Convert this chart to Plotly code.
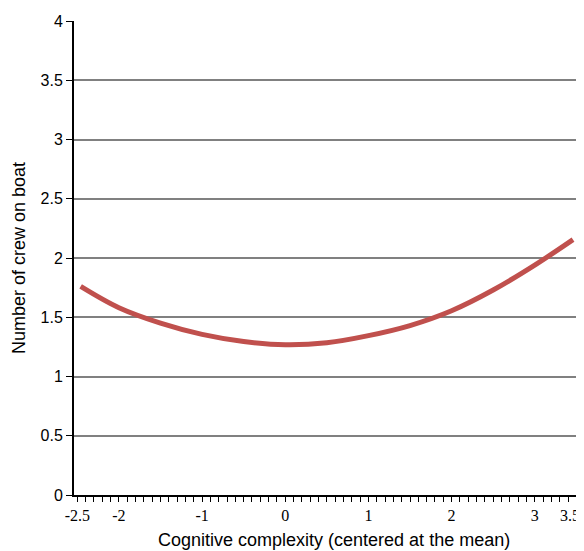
import plotly.graph_objects as go

# Data
complexity = [-2.46, -2.0, -1.5, -1.0, -0.5, 0.0, 0.5, 1.0, 1.5, 2.0, 2.5, 3.0, 3.46]
crew = [1.76, 1.58, 1.45, 1.355, 1.295, 1.268, 1.285, 1.345, 1.43, 1.555, 1.73, 1.94, 2.155]

x_tickvals = [-2.5, -2, -1, 0, 1, 2, 3, 3.5]
x_ticktext = ["-2.5", "-2", "-1", "0", "1", "2", "3", "3.5"]
y_tickvals = [0, 0.5, 1, 1.5, 2, 2.5, 3, 3.5, 4]
y_ticktext = ["0", "0.5", "1", "1.5", "2", "2.5", "3", "3.5", "4"]
x_title = "Cognitive complexity (centered at the mean)"
y_title = "Number of crew on boat"

SANS = "Liberation Sans, Arial, sans-serif"
SERIF = "Liberation Serif, Times New Roman, serif"

# the last x label sits at the very edge; draw it as an annotation nudged inward
shown_ticktext = x_ticktext[:-1] + [""]

fig = go.Figure()
fig.add_trace(go.Scatter(
    x=complexity, y=crew, mode="lines",
    line=dict(color="#c0504d", width=5, shape="spline", smoothing=1.0),
    showlegend=False, hoverinfo="skip",
))

fig.update_layout(
    width=576, height=543,
    margin=dict(l=66, r=6, t=13, b=56, autoexpand=False),
    plot_bgcolor="white", paper_bgcolor="white",
    xaxis=dict(
        range=[-2.54, 3.52], automargin=False,
        tickmode="array", tickvals=x_tickvals, ticktext=shown_ticktext,
        ticks="outside", ticklen=5, tickwidth=1, tickcolor="black",
        minor=dict(tickmode="linear", tick0=-2.5, dtick=0.1, ticks="outside",
                   ticklen=5, tickwidth=1, tickcolor="black", showgrid=False),
        showgrid=False, zeroline=False,
        showline=True, linecolor="black", linewidth=2,
        tickfont=dict(family=SERIF, size=16, color="black"),
    ),
    yaxis=dict(
        range=[0, 4], automargin=False,
        tickmode="array", tickvals=y_tickvals, ticktext=y_ticktext,
        ticks="outside", ticklen=6, tickwidth=1, tickcolor="black",
        showgrid=True, gridcolor="#808080", gridwidth=2,
        zeroline=False,
        showline=True, linecolor="black", linewidth=2,
        tickfont=dict(family=SANS, size=16, color="black"),
    ),
    annotations=[
        dict(text=x_ticktext[-1], xref="x", yref="paper", x=x_tickvals[-1], y=0,
             xanchor="right", yanchor="middle", xshift=6, yshift=-20, showarrow=False,
             font=dict(family=SERIF, size=16, color="black")),
        dict(text=x_title, xref="paper", yref="paper", x=0.516, y=-0.095,
             xanchor="center", yanchor="middle", showarrow=False,
             font=dict(family=SANS, size=18, color="black")),
        dict(text=y_title, xref="paper", yref="paper", x=-0.109, y=0.5,
             xanchor="center", yanchor="middle", showarrow=False, textangle=-90,
             font=dict(family=SANS, size=18, color="black")),
    ],
)

fig.write_html("out.html")
